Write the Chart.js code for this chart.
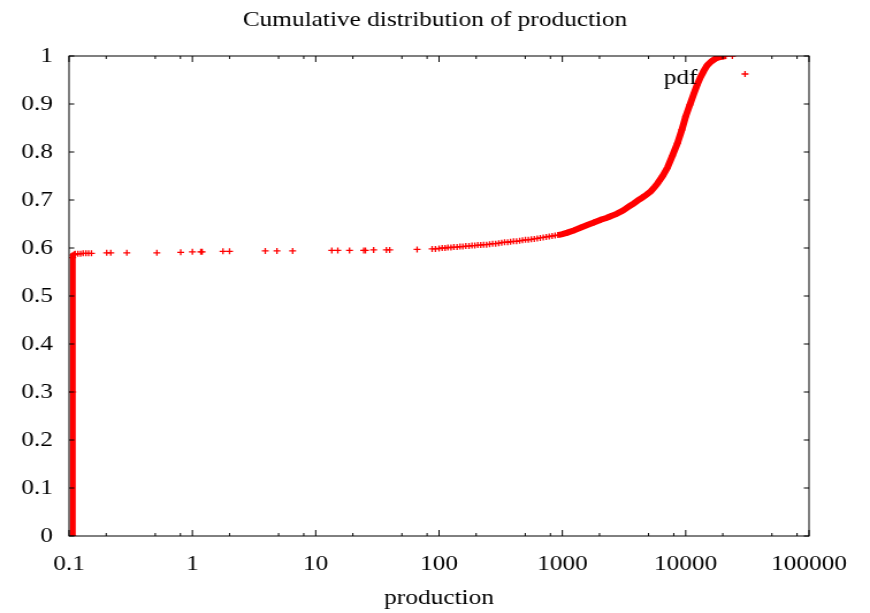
<!DOCTYPE html>
<html>
<head>
<meta charset="utf-8">
<script src="https://cdn.jsdelivr.net/npm/chart.js@4.4.1/dist/chart.umd.min.js"></script>
<style>
html,body{margin:0;padding:0;background:#fff;overflow:hidden}
#wrap{width:756px;height:613px;transform:scaleX(1.1508);transform-origin:0 0}
</style>
</head>
<body>
<div id="wrap"><canvas id="mychart" width="756" height="613"></canvas></div>
<script>
// vertical bar at the bottom end
var lowX = [0.107, 0.107, 0.107, 0.108, 0.110]
var lowY = [0, 0.30, 0.580, 0.585, 0.587]

// scattered points along the plateau
var sparseX = [0.112, 0.118, 0.124, 0.130, 0.137, 0.144, 0.152, 0.202, 0.218, 0.294, 0.515, 0.804, 1.0, 1.17, 1.2, 1.77, 2.0, 3.9, 4.85, 6.5, 13.5, 15.1, 18.8, 24.5, 25.3, 29.5, 37.4, 39.8, 66.4, 87.9, 93.5, 23900]
var sparseY = [0.588, 0.588, 0.588, 0.589, 0.589, 0.589, 0.589, 0.590, 0.590, 0.590, 0.590, 0.591, 0.592, 0.592, 0.592, 0.593, 0.593, 0.594, 0.594, 0.594, 0.595, 0.595, 0.595, 0.595, 0.595, 0.596, 0.596, 0.596, 0.597, 0.598, 0.598, 1.0]

// dense part, 100 .. 900
var midX = [100, 106, 112, 118, 125, 132, 140, 148, 156, 165, 175, 185, 195, 206, 218, 230, 243, 257, 272, 288, 305, 322, 340, 360, 380, 402, 425, 450, 475, 502, 530, 560, 592, 626, 662, 700, 740, 782, 826, 873]
var midY = [0.599, 0.600, 0.600, 0.601, 0.601, 0.602, 0.602, 0.603, 0.603, 0.604, 0.604, 0.605, 0.605, 0.606, 0.606, 0.607, 0.607, 0.608, 0.609, 0.609, 0.610, 0.611, 0.612, 0.612, 0.613, 0.614, 0.614, 0.615, 0.616, 0.617, 0.617, 0.618, 0.619, 0.620, 0.621, 0.622, 0.623, 0.624, 0.625, 0.626]

// steep part, 900 .. 21000
var steepX = [920, 1000, 1100, 1250, 1400, 1592, 1800, 2050, 2300, 2460, 2750, 3100, 3450, 3800, 4100, 4446, 4800, 5200, 5600, 5890, 6070, 6500, 7100, 7800, 8570, 9300, 10000, 10800, 11670, 12400, 13240, 14100, 15000, 16200, 17530, 19000, 20000, 21130]
var steepY = [0.627, 0.629, 0.632, 0.637, 0.642, 0.648, 0.653, 0.659, 0.663, 0.666, 0.671, 0.678, 0.686, 0.693, 0.699, 0.705, 0.711, 0.718, 0.727, 0.734, 0.739, 0.750, 0.767, 0.792, 0.818, 0.846, 0.874, 0.898, 0.922, 0.940, 0.957, 0.970, 0.981, 0.989, 0.995, 0.998, 0.999, 1.0]

var xMajor = [0.1, 1, 10, 100, 1000, 10000, 100000]
var xMinorSteps = [2, 5, 8]
var yTicks = [0, 0.1, 0.2, 0.3, 0.4, 0.5, 0.6, 0.7, 0.8, 0.9, 1]

var red = '#ff0000'
var fontFam = "'Liberation Serif', 'Times New Roman', serif"
var fs = 22

function pts(xs, ys){
  return xs.map(function(v, i){ return {x: v, y: ys[i]} })
}

var xTicks = []
xMajor.forEach(function(m){
  xTicks.push(m)
  if (m < 100000) xMinorSteps.forEach(function(s){ xTicks.push(+(m * s).toPrecision(3)) })
})

var frame = {
  id: 'frame',
  afterDatasetsDraw: function(chart){
    var ctx = chart.ctx, a = chart.chartArea, x = chart.scales.x, y = chart.scales.y
    ctx.save()
    ctx.strokeStyle = '#000'
    ctx.lineWidth = 1
    ctx.strokeRect(a.left, a.top, a.right - a.left, a.bottom - a.top)
    ctx.beginPath()
    x.ticks.forEach(function(t){
      var px = x.getPixelForValue(t.value)
      var len = xMajor.indexOf(t.value) >= 0 ? 6 : 3
      ctx.moveTo(px, a.bottom); ctx.lineTo(px, a.bottom - len)
      ctx.moveTo(px, a.top); ctx.lineTo(px, a.top + len)
    })
    y.ticks.forEach(function(t){
      var py = y.getPixelForValue(t.value)
      ctx.moveTo(a.left, py); ctx.lineTo(a.left + 4.5, py)
      ctx.moveTo(a.right, py); ctx.lineTo(a.right - 4.5, py)
    })
    ctx.stroke()
    // key: text then sample, gnuplot style
    ctx.fillStyle = '#000'
    ctx.font = fs + 'px ' + fontFam
    ctx.textAlign = 'right'
    ctx.textBaseline = 'alphabetic'
    ctx.fillText(chart.data.datasets[0].label, a.right - 97, a.top + 28)
    var kx = a.right - 55.6, ky = a.top + 18
    ctx.strokeStyle = red
    ctx.lineWidth = 1.3
    ctx.beginPath()
    ctx.moveTo(kx - 3, ky); ctx.lineTo(kx + 3, ky)
    ctx.moveTo(kx, ky - 3); ctx.lineTo(kx, ky + 3)
    ctx.stroke()
    ctx.restore()
  }
}

var pointOpts = {
  pointStyle: 'cross',
  pointRadius: 3,
  pointBorderWidth: 1.3,
  pointBorderColor: red,
  pointBackgroundColor: red,
  borderColor: red,
  backgroundColor: red
}

var mychart = document.getElementById('mychart').getContext('2d')
var chart = new Chart(mychart, {
  type: 'scatter',
  data: {
    datasets: [
      Object.assign({label: 'pdf', data: pts(lowX, lowY), showLine: true, borderWidth: 5}, pointOpts),
      Object.assign({label: 'pdf', data: pts(sparseX, sparseY), showLine: false}, pointOpts),
      Object.assign({label: 'pdf', data: pts(midX, midY), showLine: false}, pointOpts),
      Object.assign({label: 'pdf', data: pts(steepX, steepY), showLine: true, borderWidth: 6}, pointOpts)
    ]
  },
  options: {
    responsive: false,
    animation: false,
    layout: {padding: 0},
    plugins: {
      legend: {display: false},
      tooltip: {enabled: false},
      title: {
        display: true,
        text: 'Cumulative distribution of production',
        color: '#000',
        font: {family: fontFam, size: fs, weight: 'normal'},
        padding: {top: 7, bottom: 22.6}
      }
    },
    scales: {
      x: {
        type: 'logarithmic',
        min: 0.1,
        max: 100000,
        afterBuildTicks: function(scale){
          scale.ticks = xTicks.map(function(v){ return {value: v} })
        },
        afterFit: function(scale){ scale.height = 77 },
        grid: {display: false, drawTicks: false},
        border: {display: false},
        ticks: {
          autoSkip: false,
          maxRotation: 0,
          padding: 15,
          color: '#000',
          font: {family: fontFam, size: fs},
          callback: function(v){ return xMajor.indexOf(v) >= 0 ? String(v) : '' }
        },
        title: {
          display: true,
          text: 'production',
          color: '#000',
          font: {family: fontFam, size: fs},
          padding: {top: 0, bottom: 1.8}
        }
      },
      y: {
        min: 0,
        max: 1,
        afterBuildTicks: function(scale){
          scale.ticks = yTicks.map(function(v){ return {value: v} })
        },
        afterFit: function(scale){ scale.width = 60 },
        grid: {display: false, drawTicks: false},
        border: {display: false},
        ticks: {
          padding: 14,
          color: '#000',
          font: {family: fontFam, size: fs},
          callback: function(v){ return String(v) }
        }
      },
      // empty right-hand margin, so the title stays centred on the page
      yr: {
        axis: 'y',
        position: 'right',
        display: true,
        afterFit: function(scale){ scale.width = 53 },
        grid: {display: false, drawTicks: false},
        border: {display: false},
        ticks: {display: false}
      }
    }
  },
  plugins: [frame]
})
</script>
</body>
</html>
